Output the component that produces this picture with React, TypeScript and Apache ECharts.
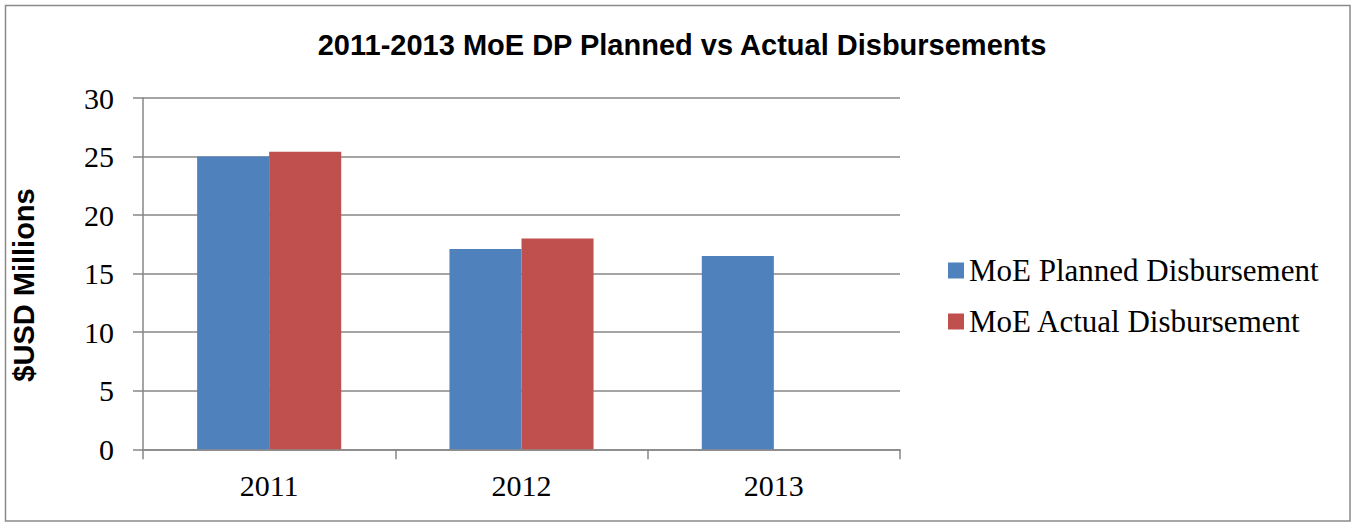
import React, { useEffect, useRef } from "react";
import * as echarts from "echarts";

const titleText = "2011-2013 MoE DP Planned vs Actual Disbursements";
const yAxisName = "$USD Millions";
const categories = ["2011", "2012", "2013"];
const plannedName = "MoE Planned Disbursement";
const actualName = "MoE Actual Disbursement";
const plannedValues = [25, 17.1, 16.5];
const actualValues: (number | null)[] = [25.4, 18.0, null];
const yMin = 0;
const yMax = 30;
const yInterval = 5;

export default function App() {
  const ref = useRef<HTMLDivElement>(null);
  useEffect(() => {
    document.body.style.margin = "0";
    if (!ref.current) return;
    const chart = echarts.init(ref.current, null, { renderer: "svg" });
    const gridColor = "#878787";
    chart.setOption({
      animation: false,
      backgroundColor: "#ffffff",
      title: {
        text: titleText,
        left: 677,
        textAlign: "center",
        top: 25,
        textStyle: {
          fontFamily: "Liberation Sans, Arial, sans-serif",
          fontWeight: "bold",
          fontSize: 29,
          color: "#000",
        },
      },
      graphic: [
        {
          type: "rect",
          shape: { x: 5.5, y: 5.5, width: 1344.5, height: 515.5 },
          style: { fill: "none", stroke: "#8a8a8a", lineWidth: 1.5 },
          silent: true,
        },
        {
          type: "text",
          x: 24,
          y: 285,
          rotation: Math.PI / 2,
          style: {
            text: yAxisName,
            fontFamily: "Liberation Sans, Arial, sans-serif",
            fontWeight: "bold",
            fontSize: 29,
            fill: "#000",
            align: "center",
            verticalAlign: "middle",
          },
          silent: true,
        },
      ],
      legend: {
        orient: "vertical",
        left: 943,
        top: 250,
        itemWidth: 16,
        itemHeight: 16,
        itemGap: 20,
        icon: "rect",
        textStyle: {
          fontFamily: "Liberation Serif, Times New Roman, serif",
          fontSize: 31,
          color: "#000",
          lineHeight: 31,
          padding: [0, 0, 0, 0],
        },
        data: [plannedName, actualName],
      },
      grid: {
        left: 143,
        right: 455,
        top: 98,
        bottom: 73.7,
        containLabel: false,
      },
      xAxis: {
        type: "category",
        data: categories,
        boundaryGap: true,
        axisLine: { show: true, lineStyle: { color: gridColor, width: 1.5 } },
        axisTick: { show: true, length: 10, lineStyle: { color: gridColor, width: 1.5 } },
        axisLabel: {
          margin: 21,
          fontFamily: "Liberation Serif, Times New Roman, serif",
          fontSize: 30,
          color: "#000",
        },
      },
      yAxis: {
        type: "value",
        min: yMin,
        max: yMax,
        interval: yInterval,
        axisLine: { show: true, lineStyle: { color: gridColor, width: 1.5 } },
        axisTick: { show: true, length: 10, lineStyle: { color: gridColor, width: 1.5 } },
        splitLine: { show: true, lineStyle: { color: gridColor, width: 1.5 } },
        axisLabel: {
          margin: 29,
          fontFamily: "Liberation Serif, Times New Roman, serif",
          fontSize: 30,
          color: "#000",
        },
      },
      series: [
        {
          name: plannedName,
          type: "bar",
          data: plannedValues,
          barGap: "0%",
          barCategoryGap: "42.9%",
          itemStyle: { color: "#4F81BD" },
        },
        {
          name: actualName,
          type: "bar",
          data: actualValues,
          barGap: "0%",
          barCategoryGap: "42.9%",
          itemStyle: { color: "#C0504D" },
        },
      ],
    });
    return () => chart.dispose();
  }, []);
  return <div ref={ref} style={{ width: 1355, height: 523 }} />;
}
